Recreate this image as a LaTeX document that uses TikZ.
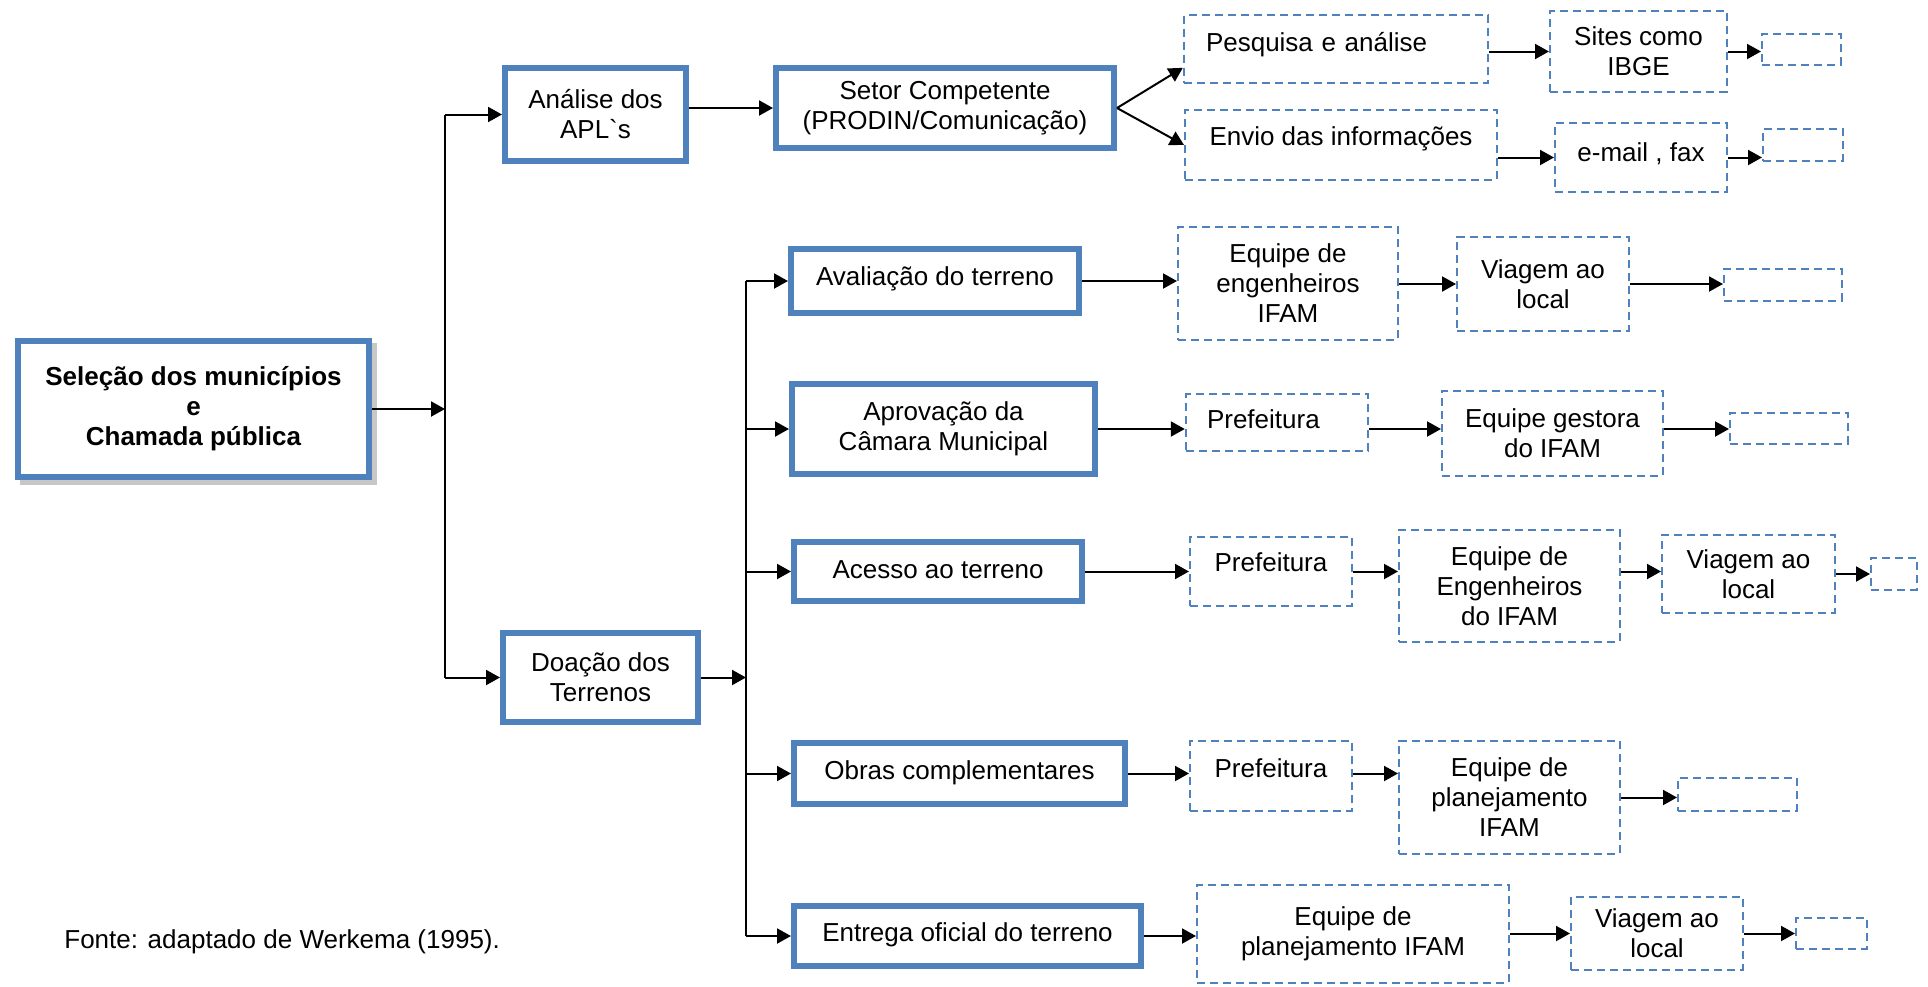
\documentclass[tikz,border=0pt]{standalone}
\usepackage{fontspec}
\setmainfont{Liberation Sans}
\usetikzlibrary{arrows.meta,shadows}
\definecolor{boxblue}{HTML}{4F81BD}

\begin{document}
\begin{tikzpicture}[x=0.5pt, y=-0.5pt,
  every node/.style={inner sep=0pt, align=center, font=\fontsize{13}{15}\selectfont},
  fullbox/.style={draw=boxblue, line width=3pt, fill=white},
  dashedbox/.style={draw=boxblue, line width=1.2pt, dash pattern=on 4pt off 2.5pt},
  textup/.style={text height=10pt, text depth=#1},
  arr/.style={-{Triangle[length=7pt,width=7.5pt]}, line width=1pt}]
\useasboundingbox (0,0) rectangle (1928,986);
% first column
\node[fullbox, minimum width=175.5pt, minimum height=68pt, font=\fontsize{13}{15}\selectfont\bfseries,
  general shadow={shadow xshift=2.5pt, shadow yshift=-2.5pt, fill=black!22, draw=black!22, line width=3pt}]
  (C0N0) at (193.5,409) {Seleção dos municípios\\e\\Chamada pública};
\node[fullbox, minimum width=90.5pt, minimum height=46.5pt] (C1N0) at (595.5,114.5) {Análise dos\\APL{\addfontfeatures{Ligatures=TeXOff}\symbol{96}}s};
\node[fullbox, minimum width=97.5pt, minimum height=44.5pt] (C1N1) at (600.5,677.5) {Doação dos\\Terrenos};
% second column
\node[fullbox, minimum width=169pt, minimum height=40pt] (C2N0) at (945,108) {Setor Competente\\(PRODIN/Comunicação)};
\node[fullbox, minimum width=144pt, minimum height=32pt, textup=5.5pt] (C2N1) at (935,281) {Avaliação do terreno};
\node[fullbox, minimum width=151.5pt, minimum height=45pt] (C2N2) at (943.5,429) {Aprovação da\\Câmara Municipal};
\node[fullbox, minimum width=144pt, minimum height=29.5pt, textup=3pt] (C2N3) at (938,571.5) {Acesso ao terreno};
\node[fullbox, minimum width=165.5pt, minimum height=30.5pt, textup=4pt] (C2N4) at (959.5,773.5) {Obras complementares};
\node[fullbox, minimum width=173.5pt, minimum height=30pt, textup=5pt] (C2N5) at (967.5,936) {Entrega oficial do terreno};
% dashed boxes
\node[dashedbox, inner xsep=11pt, text width=130pt, align=left, minimum height=33.8pt, textup=8pt] (C3N0) at (1336,49) {Pesquisa e análise};
\node[dashedbox, minimum width=155.8pt, minimum height=34.8pt, textup=10pt] (C3N1) at (1341,145) {Envio das informações};
\node[dashedbox, minimum width=109.8pt, minimum height=56.3pt] (C3N2) at (1288,283.5) {Equipe de\\engenheiros\\IFAM};
\node[dashedbox, inner xsep=10.5pt, text width=70pt, align=left, minimum height=28.3pt, textup=4pt] (C3N3) at (1277,422.5) {Prefeitura};
\node[dashedbox, minimum width=80.8pt, minimum height=34.3pt, textup=10pt] (C3N4) at (1271,571.5) {Prefeitura};
\node[dashedbox, minimum width=80.8pt, minimum height=34.8pt, textup=8.5pt] (C3N5) at (1271,776) {Prefeitura};
\node[dashedbox, minimum width=155.8pt, minimum height=48.8pt] (C3N6) at (1353,934) {Equipe de\\planejamento IFAM};
\node[dashedbox, minimum width=88.3pt, minimum height=40.3pt] (C4N0) at (1638.5,51.5) {Sites como\\IBGE};
\node[dashedbox, minimum width=85.8pt, minimum height=34.3pt, textup=6pt] (C4N1) at (1641,157.5) {e-mail , fax};
\node[dashedbox, minimum width=85.8pt, minimum height=46.8pt] (C4N2) at (1543,284) {Viagem ao\\local};
\node[dashedbox, minimum width=110.3pt, minimum height=42.3pt] (C4N3) at (1552.5,433.5) {Equipe gestora\\do IFAM};
\node[dashedbox, minimum width=110.3pt, minimum height=55.8pt] (C4N4) at (1509.5,586) {Equipe de\\Engenheiros\\do IFAM};
\node[dashedbox, minimum width=110.3pt, minimum height=56.3pt] (C4N5) at (1509.5,797.5) {Equipe de\\planejamento\\IFAM};
\node[dashedbox, minimum width=85.8pt, minimum height=36.3pt] (C4N6) at (1657,933.5) {Viagem ao\\local};
\node[dashedbox, minimum width=39.3pt, minimum height=15.3pt] (C5N0) at (1801.5,49.5) {};
\node[dashedbox, minimum width=39.8pt, minimum height=15.8pt] (C5N1) at (1803,145) {};
\node[dashedbox, minimum width=58.8pt, minimum height=15.8pt] (C5N2) at (1783,285) {};
\node[dashedbox, minimum width=58.8pt, minimum height=15.3pt] (C5N3) at (1789,428.5) {};
\node[dashedbox, minimum width=86.3pt, minimum height=38.8pt] (C5N4) at (1748.5,574) {Viagem ao\\local};
\node[dashedbox, minimum width=59.3pt, minimum height=16.3pt] (C5N5) at (1737.5,794.5) {};
\node[dashedbox, minimum width=35.3pt, minimum height=15.3pt] (C5N6) at (1831.5,933.5) {};
\node[dashedbox, minimum width=22.8pt, minimum height=15.8pt] (C6N0) at (1894,574) {};
\node[anchor=west] (F0) at (64,942) {Fonte: adaptado de Werkema (1995).};
% junctions
\coordinate (J1) at (445,409);
\coordinate (J2) at (746,677.5);
\draw[arr] (C0N0.east) -- (J1);
\draw[line width=1pt] (J1 |- C1N0) -- (J1 |- C1N1);
\draw[arr] (J1 |- C1N0) -- (C1N0.west);
\draw[arr] (J1 |- C1N1) -- (C1N1.west);
\draw[arr] (C1N0.east |- C2N0) -- (C2N0.west);
\draw[arr] (C1N1.east) -- (J2);
\draw[line width=1pt] (J2 |- C2N1) -- (J2 |- C2N5);
\draw[arr] (J2 |- C2N1) -- (C2N1.west);
\draw[arr] (J2 |- C2N2) -- (C2N2.west);
\draw[arr] (J2 |- C2N3) -- (C2N3.west);
\draw[arr] (J2 |- C2N4) -- (C2N4.west);
\draw[arr] (J2 |- C2N5) -- (C2N5.west);
% top branch
\draw[arr] (C2N0.east) -- (C3N0.187);
\draw[arr] (C2N0.east) -- (C3N1.west);
\draw[arr] (C3N0.east |- C4N0) -- (C4N0.west);
\draw[arr] (C3N1.east |- C4N1) -- (C4N1.west);
\draw[arr] (C4N0.east) -- (C4N0.east -| C5N0.west);
\draw[arr] (C4N1.east) -- (C4N1.east -| C5N1.west);
% rows
\draw[arr] (C2N1.east) -- (C2N1.east -| C3N2.west);
\draw[arr] (C3N2.east |- C4N2) -- (C4N2.west);
\draw[arr] (C4N2.east) -- (C4N2.east -| C5N2.west);
\draw[arr] (C2N2.east) -- (C2N2.east -| C3N3.west);
\draw[arr] (C2N2.east -| C3N3.east) -- (C2N2.east -| C4N3.west);
\draw[arr] (C2N2.east -| C4N3.east) -- (C2N2.east -| C5N3.west);
\draw[arr] (C2N3.east) -- (C2N3.east -| C3N4.west);
\draw[arr] (C2N3.east -| C3N4.east) -- (C2N3.east -| C4N4.west);
\draw[arr] (C2N3.east -| C4N4.east) -- (C2N3.east -| C5N4.west);
\draw[arr] (C5N4.east) -- (C5N4.east -| C6N0.west);
\draw[arr] (C2N4.east) -- (C2N4.east -| C3N5.west);
\draw[arr] (C2N4.east -| C3N5.east) -- (C2N4.east -| C4N5.west);
\draw[arr] (C4N5.east) -- (C4N5.east -| C5N5.west);
\draw[arr] (C2N5.east) -- (C2N5.east -| C3N6.west);
\draw[arr] (C3N6.east |- C4N6) -- (C4N6.west);
\draw[arr] (C4N6.east) -- (C4N6.east -| C5N6.west);
\end{tikzpicture}
\end{document}
